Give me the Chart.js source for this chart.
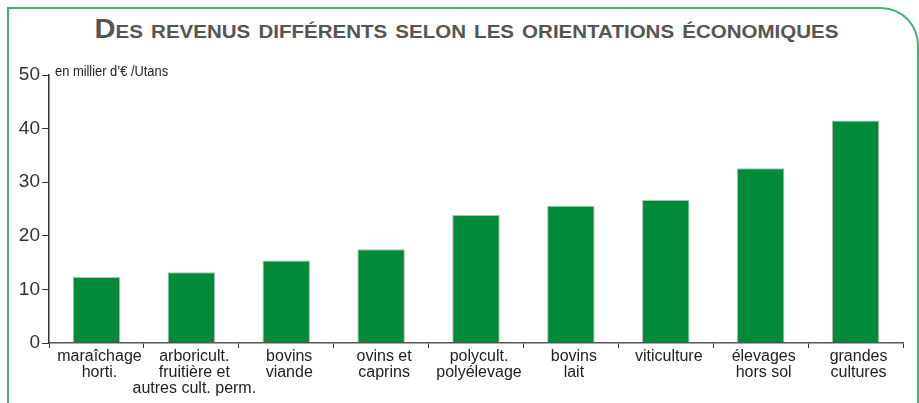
<!DOCTYPE html>
<html><head><meta charset="utf-8">
<script src="https://cdn.jsdelivr.net/npm/chart.js@4"></script>
<style>
html,body{margin:0;padding:0;background:#fff;}
#wrap{position:relative;width:919px;height:403px;overflow:hidden;}
#frame{position:absolute;left:7px;top:7px;width:912px;height:440px;border-left:2px solid #3cb574;border-top:2px solid #3cb574;border-right:2px solid #3cb574;border-top-right-radius:38px;box-sizing:border-box;}
#title{position:absolute;left:0;top:14px;width:933px;text-align:center;font-family:"Liberation Sans Narrow","Arial Narrow","Liberation Sans",sans-serif;font-weight:bold;font-variant:small-caps;font-size:27px;color:#555;white-space:nowrap;transform:scaleX(1.08);transform-origin:466.5px 50%;}
#unit{position:absolute;left:55px;top:63px;font-family:"Liberation Sans",sans-serif;font-size:14px;color:#222;white-space:nowrap;transform:scaleX(0.92);transform-origin:0 50%;}
canvas{position:absolute;left:0;top:0;}
</style></head>
<body>
<div id="wrap">
<div id="frame"></div>
<div id="title">Des revenus différents selon les orientations économiques</div>
<canvas id="c" width="919" height="403"></canvas>
<div id="unit">en millier d’€ /Utans</div>
</div>
<script>
const categories = [
  ["maraîchage","horti."],
  ["arboricult.","fruitière et","autres cult. perm."],
  ["bovins","viande"],
  ["ovins et","caprins"],
  ["polycult.","polyélevage"],
  ["bovins","lait"],
  ["viticulture"],
  ["élevages","hors sol"],
  ["grandes","cultures"]
];
const revenus = [12.3, 13.2, 15.4, 17.5, 23.9, 25.6, 26.7, 32.6, 41.5];
const yMin = 0, yMax = 50, yStep = 10;

const FONT = '"Liberation Sans Narrow","Arial Narrow","Liberation Sans",sans-serif';

new Chart(document.getElementById('c'), {
  type: 'bar',
  data: {
    labels: categories,
    datasets: [{
      data: revenus,
      backgroundColor: '#018b38',
      borderColor: '#b8b8b8',
      borderWidth: 1,
      categoryPercentage: 1,
      barPercentage: 0.5
    }]
  },
  options: {
    responsive: false,
    animation: false,
    devicePixelRatio: 1,
    layout: { padding: { top: 75, right: 16, bottom: 0, left: 0 } },
    plugins: { legend: { display: false }, tooltip: { enabled: false }, title: { display: false } },
    scales: {
      x: {
        grid: { display: true, drawOnChartArea: false, drawTicks: true, tickLength: 5, color: '#333', offset: true },
        border: { color: '#555', width: 1.5 },
        ticks: { font: { family: FONT, size: 16, lineHeight: 1.0 }, color: '#222', padding: 1, maxRotation: 0, autoSkip: false, labelOffset: 3 },
        afterFit(s) { s.height = 60; }
      },
      y: {
        min: yMin, max: yMax,
        grid: { display: true, drawOnChartArea: false, drawTicks: true, tickLength: 7, color: '#333' },
        border: { color: '#333', width: 1.5 },
        ticks: { stepSize: yStep, font: { family: FONT, size: 19 }, color: '#333', padding: 2 },
        afterFit(s) { s.width = 49; }
      }
    }
  }
});
</script>
</body></html>
